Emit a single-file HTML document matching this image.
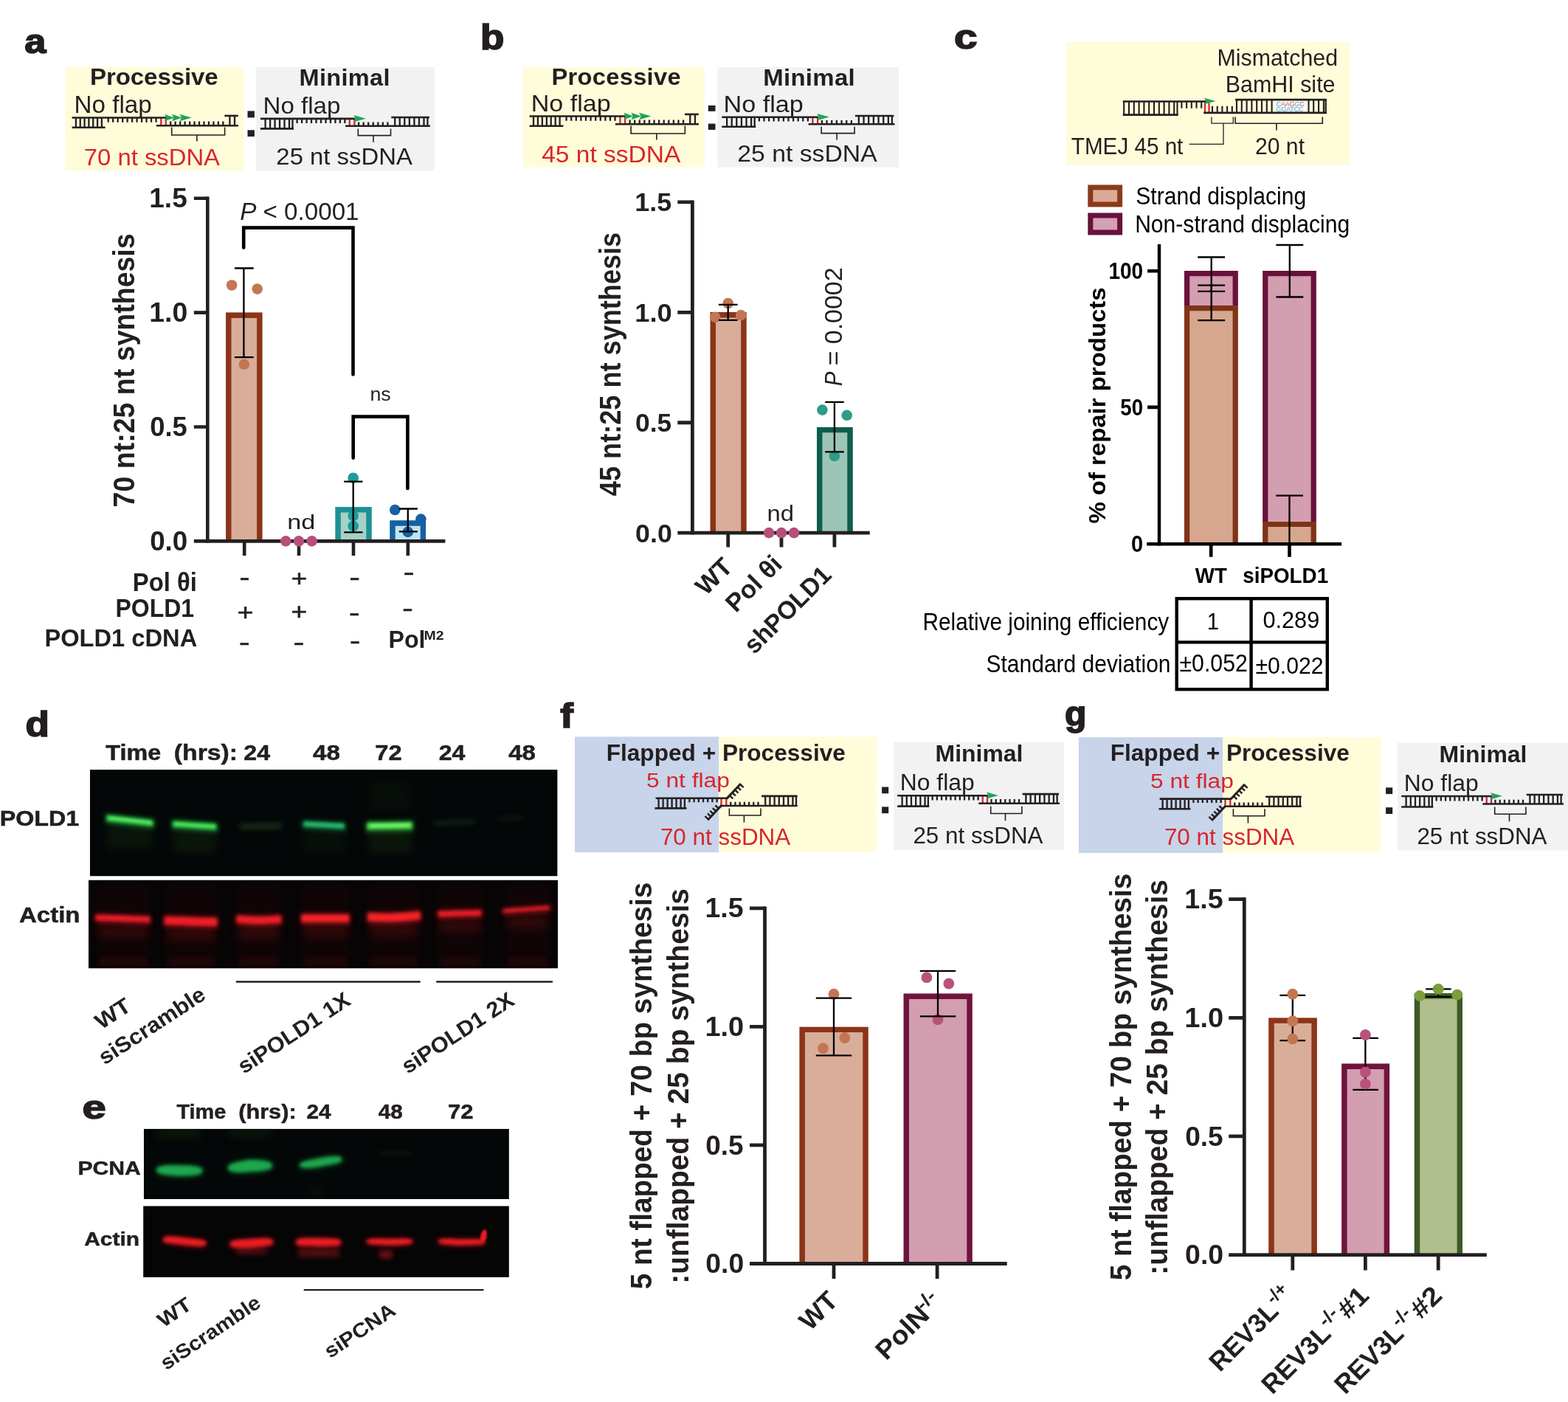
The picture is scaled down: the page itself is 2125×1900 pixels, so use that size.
<!DOCTYPE html>
<html lang="en"><head><meta charset="utf-8"><title>Figure</title>
<style>
html,body{margin:0;padding:0;background:#fff}
body{width:2125px;height:1900px;overflow:hidden}
svg{display:block}
svg text{font-family:"Liberation Sans",sans-serif;white-space:pre}
</style></head><body>
<svg width="2125" height="1900" viewBox="0 0 2125 1900">
<defs>
<filter id="b1" x="-20%" y="-100%" width="140%" height="300%"><feGaussianBlur stdDeviation="1.2"/></filter>
<filter id="b2" x="-20%" y="-100%" width="140%" height="300%"><feGaussianBlur stdDeviation="2.2"/></filter>
<filter id="b3" x="-30%" y="-100%" width="160%" height="300%"><feGaussianBlur stdDeviation="3.5"/></filter>
<filter id="b6" x="-30%" y="-50%" width="160%" height="200%"><feGaussianBlur stdDeviation="6"/></filter>
</defs>
<rect width="2125" height="1900" fill="#ffffff"/>
<rect x="88.30" y="90.80" width="242.30" height="140.80" fill="#fffcda"/>
<rect x="347.00" y="90.80" width="241.80" height="140.80" fill="#f2f2f2"/>
<text transform="translate(121.99 115.20) scale(1.0300 1)" font-size="32.12" font-weight="700" fill="#231f20" letter-spacing="-0.098">Processive</text>
<text transform="translate(405.53 115.90) scale(1.0300 1)" font-size="31.54" font-weight="700" fill="#231f20" letter-spacing="0.329">Minimal</text>
<text transform="translate(100.58 152.70) scale(1.0021 1)" font-size="33.14" font-weight="400" fill="#231f20">No flap</text>
<text transform="translate(356.48 154.40) scale(1.0546 1)" font-size="31.40" font-weight="400" fill="#231f20">No flap</text>
<path d="M102.90 159.50V172.80M108.73 159.50V172.80M114.56 159.50V172.80M120.39 159.50V172.80M126.22 159.50V172.80M132.05 159.50V172.80M137.88 159.50V172.80" fill="none" stroke="#231f20" stroke-width="2.30"/>
<path d="M146.70 159.50V165.80M153.18 159.50V165.80M159.66 159.50V165.80M166.14 159.50V165.80M172.62 159.50V165.80M179.10 159.50V165.80M185.58 159.50V165.80M192.06 159.50V165.80M198.54 159.50V165.80M205.02 159.50V165.80M211.50 159.50V165.80" fill="none" stroke="#231f20" stroke-width="2.30"/>
<path d="M231.20 170.30V164.60M237.67 170.30V164.60M244.14 170.30V164.60M250.61 170.30V164.60M257.08 170.30V164.60M263.55 170.30V164.60M270.02 170.30V164.60M276.49 170.30V164.60M282.96 170.30V164.60M289.43 170.30V164.60M295.90 170.30V164.60M302.37 170.30V164.60" fill="none" stroke="#231f20" stroke-width="2.30"/>
<path d="M311.40 156.90V170.30M318.00 156.90V170.30" fill="none" stroke="#231f20" stroke-width="2.30"/>
<path d="M218.30 159.50V170.30M224.80 159.50V170.30" fill="none" stroke="#d7262c" stroke-width="2.30"/>
<line x1="97.60" y1="159.50" x2="225.10" y2="159.50" stroke="#231f20" stroke-width="2.60" stroke-linecap="butt"/>
<line x1="97.60" y1="172.80" x2="142.60" y2="172.80" stroke="#231f20" stroke-width="2.60" stroke-linecap="butt"/>
<line x1="211.80" y1="170.30" x2="322.90" y2="170.30" stroke="#231f20" stroke-width="2.60" stroke-linecap="butt"/>
<line x1="304.30" y1="156.90" x2="322.70" y2="156.90" stroke="#231f20" stroke-width="2.60" stroke-linecap="butt"/>
<path d="M223.20 154.70 L236.10 159.50 L223.20 164.30 L225.26 159.50 Z" fill="#1fa355"/>
<path d="M233.00 154.70 L246.60 159.50 L233.00 164.30 L235.18 159.50 Z" fill="#1fa355"/>
<path d="M243.50 154.70 L259.50 159.50 L243.50 164.30 L246.06 159.50 Z" fill="#1fa355"/>
<path d="M232.70 172.50V183.00H304.60V172.50M266.80 183.00V191.60" fill="none" stroke="#231f20" stroke-width="1.60"/>
<path d="M359.60 160.90V174.40M366.08 160.90V174.40M372.56 160.90V174.40M379.04 160.90V174.40M385.52 160.90V174.40M392.00 160.90V174.40M396.50 160.90V174.40" fill="none" stroke="#231f20" stroke-width="2.30"/>
<path d="M402.60 160.90V166.90M409.08 160.90V166.90M415.56 160.90V166.90M422.04 160.90V166.90M428.52 160.90V166.90M435.00 160.90V166.90M441.48 160.90V166.90M447.96 160.90V166.90M454.44 160.90V166.90M460.92 160.90V166.90M467.40 160.90V166.90" fill="none" stroke="#231f20" stroke-width="2.30"/>
<path d="M486.10 170.70V165.40M492.65 170.70V165.40M499.20 170.70V165.40M505.75 170.70V165.40M512.30 170.70V165.40M518.85 170.70V165.40M525.40 170.70V165.40" fill="none" stroke="#231f20" stroke-width="2.30"/>
<path d="M535.20 159.00V170.70M541.75 159.00V170.70M548.30 159.00V170.70M554.85 159.00V170.70M561.40 159.00V170.70M567.95 159.00V170.70M574.50 159.00V170.70M579.40 159.00V170.70" fill="none" stroke="#231f20" stroke-width="2.30"/>
<path d="M473.80 160.90V170.70M480.40 160.90V170.70" fill="none" stroke="#d7262c" stroke-width="2.30"/>
<line x1="352.90" y1="160.90" x2="481.20" y2="160.90" stroke="#231f20" stroke-width="2.60" stroke-linecap="butt"/>
<line x1="352.90" y1="174.40" x2="398.00" y2="174.40" stroke="#231f20" stroke-width="2.60" stroke-linecap="butt"/>
<line x1="468.10" y1="170.70" x2="582.90" y2="170.70" stroke="#231f20" stroke-width="2.60" stroke-linecap="butt"/>
<line x1="530.30" y1="159.00" x2="581.90" y2="159.00" stroke="#231f20" stroke-width="2.60" stroke-linecap="butt"/>
<path d="M479.40 156.10 L495.90 160.70 L479.40 165.30 L482.04 160.70 Z" fill="#1fa355"/>
<path d="M485.30 174.40V183.60H529.50V174.40M506.00 183.60V192.80" fill="none" stroke="#231f20" stroke-width="1.60"/>
<text transform="translate(113.82 223.70) scale(1.0407 1)" font-size="31.54" font-weight="400" fill="#d7262c">70 nt ssDNA</text>
<text transform="translate(374.35 222.80) scale(1.0422 1)" font-size="31.54" font-weight="400" fill="#231f20">25 nt ssDNA</text>
<rect x="335.50" y="150.40" width="9.40" height="9.00" fill="#231f20"/>
<rect x="335.50" y="176.30" width="9.40" height="8.80" fill="#231f20"/>
<rect x="708.70" y="91.00" width="246.10" height="135.60" fill="#fffcda"/>
<rect x="972.40" y="91.00" width="245.80" height="135.60" fill="#f2f2f2"/>
<text transform="translate(747.42 114.90) scale(1.0300 1)" font-size="31.69" font-weight="700" fill="#231f20" letter-spacing="0.304">Processive</text>
<text transform="translate(1034.20 116.40) scale(1.0300 1)" font-size="31.98" font-weight="700" fill="#231f20" letter-spacing="0.311">Minimal</text>
<text transform="translate(719.70 150.80) scale(1.0910 1)" font-size="31.25" font-weight="400" fill="#231f20">No flap</text>
<text transform="translate(980.50 152.30) scale(1.0942 1)" font-size="31.25" font-weight="400" fill="#231f20">No flap</text>
<path d="M723.00 157.50V170.80M728.93 157.50V170.80M734.87 157.50V170.80M740.80 157.50V170.80M746.74 157.50V170.80M752.67 157.50V170.80M758.61 157.50V170.80" fill="none" stroke="#231f20" stroke-width="2.30"/>
<path d="M767.58 157.50V163.80M774.18 157.50V163.80M780.78 157.50V163.80M787.37 157.50V163.80M793.97 157.50V163.80M800.57 157.50V163.80M807.16 157.50V163.80M813.76 157.50V163.80M820.36 157.50V163.80M826.95 157.50V163.80M833.55 157.50V163.80" fill="none" stroke="#231f20" stroke-width="2.30"/>
<path d="M853.60 168.30V162.60M860.19 168.30V162.60M866.78 168.30V162.60M873.36 168.30V162.60M879.95 168.30V162.60M886.54 168.30V162.60M893.12 168.30V162.60M899.71 168.30V162.60M906.30 168.30V162.60M912.88 168.30V162.60M919.47 168.30V162.60M926.06 168.30V162.60" fill="none" stroke="#231f20" stroke-width="2.30"/>
<path d="M935.25 154.90V168.30M941.97 154.90V168.30" fill="none" stroke="#231f20" stroke-width="2.30"/>
<path d="M840.47 157.50V168.30M847.09 157.50V168.30" fill="none" stroke="#d7262c" stroke-width="2.30"/>
<line x1="717.60" y1="157.50" x2="847.39" y2="157.50" stroke="#231f20" stroke-width="2.60" stroke-linecap="butt"/>
<line x1="717.60" y1="170.80" x2="763.41" y2="170.80" stroke="#231f20" stroke-width="2.60" stroke-linecap="butt"/>
<line x1="833.86" y1="168.30" x2="946.96" y2="168.30" stroke="#231f20" stroke-width="2.60" stroke-linecap="butt"/>
<line x1="928.02" y1="154.90" x2="946.75" y2="154.90" stroke="#231f20" stroke-width="2.60" stroke-linecap="butt"/>
<path d="M845.46 152.70 L858.59 157.50 L845.46 162.30 L847.56 157.50 Z" fill="#1fa355"/>
<path d="M855.44 152.70 L869.28 157.50 L855.44 162.30 L857.65 157.50 Z" fill="#1fa355"/>
<path d="M866.13 152.70 L882.41 157.50 L866.13 162.30 L868.73 157.50 Z" fill="#1fa355"/>
<path d="M855.13 170.50V181.00H928.33V170.50M889.85 181.00V189.60" fill="none" stroke="#231f20" stroke-width="1.60"/>
<path d="M985.12 158.80V171.76M991.72 158.80V171.76M998.31 158.80V171.76M1004.91 158.80V171.76M1011.51 158.80V171.76M1018.10 158.80V171.76M1022.68 158.80V171.76" fill="none" stroke="#231f20" stroke-width="2.30"/>
<path d="M1028.89 158.80V164.56M1035.49 158.80V164.56M1042.09 158.80V164.56M1048.68 158.80V164.56M1055.28 158.80V164.56M1061.88 158.80V164.56M1068.47 158.80V164.56M1075.07 158.80V164.56M1081.67 158.80V164.56M1088.26 158.80V164.56M1094.86 158.80V164.56" fill="none" stroke="#231f20" stroke-width="2.30"/>
<path d="M1113.90 168.21V163.12M1120.57 168.21V163.12M1127.23 168.21V163.12M1133.90 168.21V163.12M1140.57 168.21V163.12M1147.24 168.21V163.12M1153.90 168.21V163.12" fill="none" stroke="#231f20" stroke-width="2.30"/>
<path d="M1163.88 156.98V168.21M1170.55 156.98V168.21M1177.22 156.98V168.21M1183.89 156.98V168.21M1190.55 156.98V168.21M1197.22 156.98V168.21M1203.89 156.98V168.21M1208.88 156.98V168.21" fill="none" stroke="#231f20" stroke-width="2.30"/>
<path d="M1101.38 158.80V168.21M1108.10 158.80V168.21" fill="none" stroke="#d7262c" stroke-width="2.30"/>
<line x1="978.30" y1="158.80" x2="1108.91" y2="158.80" stroke="#231f20" stroke-width="2.60" stroke-linecap="butt"/>
<line x1="978.30" y1="171.76" x2="1024.21" y2="171.76" stroke="#231f20" stroke-width="2.60" stroke-linecap="butt"/>
<line x1="1095.57" y1="168.21" x2="1212.44" y2="168.21" stroke="#231f20" stroke-width="2.60" stroke-linecap="butt"/>
<line x1="1158.89" y1="156.98" x2="1211.42" y2="156.98" stroke="#231f20" stroke-width="2.60" stroke-linecap="butt"/>
<path d="M1107.08 154.01 L1123.87 158.61 L1107.08 163.21 L1109.76 158.61 Z" fill="#1fa355"/>
<path d="M1113.08 171.76V180.59H1158.08V171.76M1134.16 180.59V189.42" fill="none" stroke="#231f20" stroke-width="1.60"/>
<text transform="translate(734.13 220.10) scale(1.0731 1)" font-size="31.25" font-weight="400" fill="#d7262c">45 nt ssDNA</text>
<text transform="translate(999.30 219.20) scale(1.0908 1)" font-size="30.96" font-weight="400" fill="#231f20">25 nt ssDNA</text>
<rect x="959.80" y="142.90" width="9.70" height="7.90" fill="#231f20"/>
<rect x="959.80" y="167.60" width="9.70" height="8.30" fill="#231f20"/>
<rect x="1444.80" y="56.50" width="384.60" height="167.10" fill="#fffcda"/>
<text transform="translate(1649.51 88.90) scale(0.9445 1)" font-size="32.12" font-weight="400" fill="#231f20">Mismatched</text>
<text transform="translate(1660.70 124.90) scale(0.9786 1)" font-size="31.11" font-weight="400" fill="#231f20">BamHI site</text>
<text transform="translate(1451.83 209.00) scale(0.9576 1)" font-size="30.96" font-weight="400" fill="#231f20">TMEJ 45 nt</text>
<text transform="translate(1700.98 209.00) scale(0.9735 1)" font-size="30.96" font-weight="400" fill="#231f20">20 nt</text>
<path d="M1523.20 137.50V155.70M1530.00 137.50V155.70M1536.80 137.50V155.70M1543.60 137.50V155.70M1550.40 137.50V155.70M1557.20 137.50V155.70M1564.00 137.50V155.70M1570.80 137.50V155.70M1577.60 137.50V155.70M1584.40 137.50V155.70M1591.20 137.50V155.70M1595.50 137.50V155.70" fill="none" stroke="#231f20" stroke-width="2.10"/>
<path d="M1601.40 137.50V146.70M1608.10 137.50V146.70M1614.80 137.50V146.70M1621.50 137.50V146.70M1628.20 137.50V146.70" fill="none" stroke="#231f20" stroke-width="2.10"/>
<path d="M1643.00 152.80V143.80M1649.70 152.80V143.80M1656.40 152.80V143.80M1663.10 152.80V143.80M1669.80 152.80V143.80" fill="none" stroke="#231f20" stroke-width="2.10"/>
<path d="M1676.00 135.10V152.80M1682.80 135.10V152.80M1689.60 135.10V152.80M1696.40 135.10V152.80M1703.20 135.10V152.80M1710.00 135.10V152.80M1716.80 135.10V152.80M1723.60 135.10V152.80" fill="none" stroke="#231f20" stroke-width="2.10"/>
<path d="M1773.50 135.10V152.80M1780.20 135.10V152.80M1787.10 135.10V152.80M1793.90 135.10V152.80" fill="none" stroke="#231f20" stroke-width="2.10"/>
<path d="M1796.70 135.10V152.80" fill="none" stroke="#231f20" stroke-width="2.30"/>
<rect x="1728.90" y="136.60" width="41.60" height="14.90" fill="#f4fbfb"/>
<path d="M1633.00 137.50V152.80M1638.50 137.50V152.80" fill="none" stroke="#d7262c" stroke-width="2.20"/>
<line x1="1521.70" y1="137.50" x2="1635.20" y2="137.50" stroke="#231f20" stroke-width="2.70" stroke-linecap="butt"/>
<line x1="1521.70" y1="155.70" x2="1596.70" y2="155.70" stroke="#231f20" stroke-width="2.70" stroke-linecap="butt"/>
<line x1="1631.20" y1="152.80" x2="1797.90" y2="152.80" stroke="#231f20" stroke-width="2.70" stroke-linecap="butt"/>
<line x1="1674.10" y1="135.10" x2="1797.90" y2="135.10" stroke="#231f20" stroke-width="2.70" stroke-linecap="butt"/>
<path d="M1632.00 132.70 L1647.70 137.00 L1632.00 141.30 L1634.51 137.00 Z" fill="#1fa355"/>
<text transform="translate(1729.6 143.9) scale(0.98 1)" font-size="9.2" fill="#d9534f" letter-spacing="-0.2"><tspan fill="#5aa0c8">C</tspan>AAG<tspan fill="#5aa0c8">G</tspan>C</text>
<text transform="translate(1729.6 150.9) scale(0.98 1)" font-size="9.2" fill="#5aa0c8" letter-spacing="-0.2">GGATCC</text>
<path d="M1641.9 158.5V167.2H1671.3V158.5M1658 167.2V195.4H1611.6" fill="none" stroke="#231f20" stroke-width="1.30"/>
<path d="M1674.10 158.50V167.20H1792.30V158.50M1729.90 167.20V176.60" fill="none" stroke="#231f20" stroke-width="1.60"/>
<rect x="1477.80" y="254.00" width="39.80" height="23.00" fill="#dbab97" stroke="#8a3a1b" stroke-width="7.00"/>
<rect x="1477.80" y="292.00" width="39.80" height="23.00" fill="#d4a0b4" stroke="#66123c" stroke-width="7.00"/>
<text transform="translate(1539.23 276.80) scale(0.9253 1)" font-size="32.56" font-weight="400" fill="#000">Strand displacing</text>
<text transform="translate(1538.13 315.20) scale(0.9244 1)" font-size="32.56" font-weight="400" fill="#000">Non-strand displacing</text>
<rect x="778.90" y="998.40" width="195.40" height="156.70" fill="#c7d4ea"/>
<rect x="974.30" y="998.40" width="213.70" height="156.20" fill="#fffcda"/>
<rect x="1211.20" y="1005.90" width="230.80" height="145.80" fill="#f2f2f2"/>
<text transform="translate(821.68 1030.60) scale(1.0073 1)" font-size="31.40" font-weight="700" fill="#231f20">Flapped + Processive</text>
<text transform="translate(876.03 1067.10) scale(1.1664 1)" font-size="27.18" font-weight="400" fill="#d7262c">5 nt flap</text>
<text transform="translate(894.89 1144.50) scale(1.0060 1)" font-size="31.25" font-weight="400" fill="#d7262c">70 nt ssDNA</text>
<path d="M892.60 1081.80V1095.40M898.60 1081.80V1095.40M904.60 1081.80V1095.40M910.60 1081.80V1095.40M916.60 1081.80V1095.40M922.60 1081.80V1095.40M927.90 1081.80V1095.40" fill="none" stroke="#231f20" stroke-width="2.30"/>
<path d="M934.40 1081.80V1087.30M940.60 1081.80V1087.30M946.80 1081.80V1087.30M953.00 1081.80V1087.30M959.20 1081.80V1087.30M965.40 1081.80V1087.30M971.60 1081.80V1087.30" fill="none" stroke="#231f20" stroke-width="2.30"/>
<path d="M990.30 1092.00V1086.80M996.50 1092.00V1086.80M1002.70 1092.00V1086.80M1008.90 1092.00V1086.80M1015.10 1092.00V1086.80M1021.30 1092.00V1086.80M1027.50 1092.00V1086.80" fill="none" stroke="#231f20" stroke-width="2.30"/>
<path d="M1037.20 1078.90V1092.00M1043.40 1078.90V1092.00M1049.60 1078.90V1092.00M1055.80 1078.90V1092.00M1062.00 1078.90V1092.00M1068.20 1078.90V1092.00M1074.40 1078.90V1092.00M1079.00 1078.90V1092.00" fill="none" stroke="#231f20" stroke-width="2.30"/>
<path d="M977.50 1081.80V1092.00M984.30 1081.80V1092.00" fill="none" stroke="#d7262c" stroke-width="2.30"/>
<line x1="888.60" y1="1081.80" x2="985.60" y2="1081.80" stroke="#231f20" stroke-width="2.60" stroke-linecap="butt"/>
<line x1="887.50" y1="1095.40" x2="930.40" y2="1095.40" stroke="#231f20" stroke-width="2.60" stroke-linecap="butt"/>
<line x1="976.60" y1="1092.00" x2="1080.70" y2="1092.00" stroke="#231f20" stroke-width="2.60" stroke-linecap="butt"/>
<line x1="1032.10" y1="1078.90" x2="1080.70" y2="1078.90" stroke="#231f20" stroke-width="2.60" stroke-linecap="butt"/>
<line x1="984.80" y1="1082.40" x2="1003.90" y2="1062.00" stroke="#231f20" stroke-width="3.00" stroke-linecap="butt"/>
<path d="M988.79 1078.00L993.30 1082.26M992.38 1074.20L996.89 1078.45M995.97 1070.40L1000.48 1074.65M999.56 1066.59L1004.07 1070.85M1003.15 1062.79L1007.66 1067.05" fill="none" stroke="#231f20" stroke-width="2.40"/>
<line x1="977.80" y1="1091.40" x2="959.20" y2="1111.20" stroke="#231f20" stroke-width="3.00" stroke-linecap="butt"/>
<path d="M973.82 1095.69L969.31 1091.43M970.35 1099.37L965.84 1095.12M966.87 1103.06L962.36 1098.81M963.40 1106.75L958.89 1102.49M959.92 1110.43L955.41 1106.18" fill="none" stroke="#231f20" stroke-width="2.40"/>
<path d="M988.40 1095.40V1105.00H1031.00V1095.40M1008.40 1105.00V1114.60" fill="none" stroke="#231f20" stroke-width="1.60"/>
<rect x="1195.10" y="1066.50" width="9.10" height="8.80" fill="#231f20"/>
<rect x="1195.10" y="1093.40" width="9.10" height="8.80" fill="#231f20"/>
<text transform="translate(1267.56 1032.00) scale(1.0042 1)" font-size="31.83" font-weight="700" fill="#231f20">Minimal</text>
<text transform="translate(1219.79 1071.00) scale(1.0195 1)" font-size="31.25" font-weight="400" fill="#231f20">No flap</text>
<path d="M1222.60 1078.20V1092.64M1228.79 1078.20V1092.64M1234.99 1078.20V1092.64M1241.18 1078.20V1092.64M1247.37 1078.20V1092.64M1253.56 1078.20V1092.64M1257.86 1078.20V1092.64" fill="none" stroke="#231f20" stroke-width="2.30"/>
<path d="M1263.69 1078.20V1084.62M1269.88 1078.20V1084.62M1276.07 1078.20V1084.62M1282.26 1078.20V1084.62M1288.45 1078.20V1084.62M1294.65 1078.20V1084.62M1300.84 1078.20V1084.62M1307.03 1078.20V1084.62M1313.22 1078.20V1084.62M1319.41 1078.20V1084.62M1325.60 1078.20V1084.62" fill="none" stroke="#231f20" stroke-width="2.30"/>
<path d="M1343.47 1088.69V1083.02M1349.73 1088.69V1083.02M1355.99 1088.69V1083.02M1362.25 1088.69V1083.02M1368.51 1088.69V1083.02M1374.77 1088.69V1083.02M1381.02 1088.69V1083.02" fill="none" stroke="#231f20" stroke-width="2.30"/>
<path d="M1390.39 1076.17V1088.69M1396.65 1076.17V1088.69M1402.90 1076.17V1088.69M1409.16 1076.17V1088.69M1415.42 1076.17V1088.69M1421.68 1076.17V1088.69M1427.94 1076.17V1088.69M1432.62 1076.17V1088.69" fill="none" stroke="#231f20" stroke-width="2.30"/>
<path d="M1331.72 1078.20V1088.69M1338.03 1078.20V1088.69" fill="none" stroke="#d7262c" stroke-width="2.30"/>
<line x1="1216.20" y1="1078.20" x2="1338.79" y2="1078.20" stroke="#231f20" stroke-width="2.60" stroke-linecap="butt"/>
<line x1="1216.20" y1="1092.64" x2="1259.29" y2="1092.64" stroke="#231f20" stroke-width="2.60" stroke-linecap="butt"/>
<line x1="1326.27" y1="1088.69" x2="1435.97" y2="1088.69" stroke="#231f20" stroke-width="2.60" stroke-linecap="butt"/>
<line x1="1385.71" y1="1076.17" x2="1435.01" y2="1076.17" stroke="#231f20" stroke-width="2.60" stroke-linecap="butt"/>
<path d="M1337.07 1073.39 L1352.84 1077.99 L1337.07 1082.59 L1339.59 1077.99 Z" fill="#1fa355"/>
<path d="M1342.71 1092.64V1102.49H1384.94V1092.64M1362.49 1102.49V1112.33" fill="none" stroke="#231f20" stroke-width="1.60"/>
<text transform="translate(1237.42 1142.80) scale(0.9813 1)" font-size="31.98" font-weight="400" fill="#231f20">25 nt ssDNA</text>
<rect x="1461.90" y="999.20" width="195.40" height="156.70" fill="#c7d4ea"/>
<rect x="1657.30" y="999.20" width="213.70" height="156.20" fill="#fffcda"/>
<rect x="1894.20" y="1006.70" width="230.80" height="145.80" fill="#f2f2f2"/>
<text transform="translate(1504.68 1031.40) scale(1.0073 1)" font-size="31.40" font-weight="700" fill="#231f20">Flapped + Processive</text>
<text transform="translate(1559.03 1067.90) scale(1.1664 1)" font-size="27.18" font-weight="400" fill="#d7262c">5 nt flap</text>
<text transform="translate(1577.89 1145.30) scale(1.0060 1)" font-size="31.25" font-weight="400" fill="#d7262c">70 nt ssDNA</text>
<path d="M1575.60 1082.60V1096.20M1581.60 1082.60V1096.20M1587.60 1082.60V1096.20M1593.60 1082.60V1096.20M1599.60 1082.60V1096.20M1605.60 1082.60V1096.20M1610.90 1082.60V1096.20" fill="none" stroke="#231f20" stroke-width="2.30"/>
<path d="M1617.40 1082.60V1088.10M1623.60 1082.60V1088.10M1629.80 1082.60V1088.10M1636.00 1082.60V1088.10M1642.20 1082.60V1088.10M1648.40 1082.60V1088.10M1654.60 1082.60V1088.10" fill="none" stroke="#231f20" stroke-width="2.30"/>
<path d="M1673.30 1092.80V1087.60M1679.50 1092.80V1087.60M1685.70 1092.80V1087.60M1691.90 1092.80V1087.60M1698.10 1092.80V1087.60M1704.30 1092.80V1087.60M1710.50 1092.80V1087.60" fill="none" stroke="#231f20" stroke-width="2.30"/>
<path d="M1720.20 1079.70V1092.80M1726.40 1079.70V1092.80M1732.60 1079.70V1092.80M1738.80 1079.70V1092.80M1745.00 1079.70V1092.80M1751.20 1079.70V1092.80M1757.40 1079.70V1092.80M1762.00 1079.70V1092.80" fill="none" stroke="#231f20" stroke-width="2.30"/>
<path d="M1660.50 1082.60V1092.80M1667.30 1082.60V1092.80" fill="none" stroke="#d7262c" stroke-width="2.30"/>
<line x1="1571.60" y1="1082.60" x2="1668.60" y2="1082.60" stroke="#231f20" stroke-width="2.60" stroke-linecap="butt"/>
<line x1="1570.50" y1="1096.20" x2="1613.40" y2="1096.20" stroke="#231f20" stroke-width="2.60" stroke-linecap="butt"/>
<line x1="1659.60" y1="1092.80" x2="1763.70" y2="1092.80" stroke="#231f20" stroke-width="2.60" stroke-linecap="butt"/>
<line x1="1715.10" y1="1079.70" x2="1763.70" y2="1079.70" stroke="#231f20" stroke-width="2.60" stroke-linecap="butt"/>
<line x1="1667.80" y1="1083.20" x2="1686.90" y2="1062.80" stroke="#231f20" stroke-width="3.00" stroke-linecap="butt"/>
<path d="M1671.79 1078.80L1676.30 1083.06M1675.38 1075.00L1679.89 1079.25M1678.97 1071.20L1683.48 1075.45M1682.56 1067.39L1687.07 1071.65M1686.15 1063.59L1690.66 1067.85" fill="none" stroke="#231f20" stroke-width="2.40"/>
<line x1="1660.80" y1="1092.20" x2="1642.20" y2="1112.00" stroke="#231f20" stroke-width="3.00" stroke-linecap="butt"/>
<path d="M1656.82 1096.49L1652.31 1092.23M1653.35 1100.17L1648.84 1095.92M1649.87 1103.86L1645.36 1099.61M1646.40 1107.55L1641.89 1103.29M1642.92 1111.23L1638.41 1106.98" fill="none" stroke="#231f20" stroke-width="2.40"/>
<path d="M1671.40 1096.20V1105.80H1714.00V1096.20M1691.40 1105.80V1115.40" fill="none" stroke="#231f20" stroke-width="1.60"/>
<rect x="1878.10" y="1067.30" width="9.10" height="8.80" fill="#231f20"/>
<rect x="1878.10" y="1094.20" width="9.10" height="8.80" fill="#231f20"/>
<text transform="translate(1950.56 1032.80) scale(1.0042 1)" font-size="31.83" font-weight="700" fill="#231f20">Minimal</text>
<text transform="translate(1902.79 1071.80) scale(1.0195 1)" font-size="31.25" font-weight="400" fill="#231f20">No flap</text>
<path d="M1905.60 1079.00V1093.44M1911.79 1079.00V1093.44M1917.99 1079.00V1093.44M1924.18 1079.00V1093.44M1930.37 1079.00V1093.44M1936.56 1079.00V1093.44M1940.86 1079.00V1093.44" fill="none" stroke="#231f20" stroke-width="2.30"/>
<path d="M1946.69 1079.00V1085.42M1952.88 1079.00V1085.42M1959.07 1079.00V1085.42M1965.26 1079.00V1085.42M1971.45 1079.00V1085.42M1977.65 1079.00V1085.42M1983.84 1079.00V1085.42M1990.03 1079.00V1085.42M1996.22 1079.00V1085.42M2002.41 1079.00V1085.42M2008.60 1079.00V1085.42" fill="none" stroke="#231f20" stroke-width="2.30"/>
<path d="M2026.47 1089.49V1083.82M2032.73 1089.49V1083.82M2038.99 1089.49V1083.82M2045.25 1089.49V1083.82M2051.51 1089.49V1083.82M2057.77 1089.49V1083.82M2064.02 1089.49V1083.82" fill="none" stroke="#231f20" stroke-width="2.30"/>
<path d="M2073.39 1076.97V1089.49M2079.65 1076.97V1089.49M2085.90 1076.97V1089.49M2092.16 1076.97V1089.49M2098.42 1076.97V1089.49M2104.68 1076.97V1089.49M2110.94 1076.97V1089.49M2115.62 1076.97V1089.49" fill="none" stroke="#231f20" stroke-width="2.30"/>
<path d="M2014.72 1079.00V1089.49M2021.03 1079.00V1089.49" fill="none" stroke="#d7262c" stroke-width="2.30"/>
<line x1="1899.20" y1="1079.00" x2="2021.79" y2="1079.00" stroke="#231f20" stroke-width="2.60" stroke-linecap="butt"/>
<line x1="1899.20" y1="1093.44" x2="1942.29" y2="1093.44" stroke="#231f20" stroke-width="2.60" stroke-linecap="butt"/>
<line x1="2009.27" y1="1089.49" x2="2118.97" y2="1089.49" stroke="#231f20" stroke-width="2.60" stroke-linecap="butt"/>
<line x1="2068.71" y1="1076.97" x2="2118.01" y2="1076.97" stroke="#231f20" stroke-width="2.60" stroke-linecap="butt"/>
<path d="M2020.07 1074.19 L2035.84 1078.79 L2020.07 1083.39 L2022.59 1078.79 Z" fill="#1fa355"/>
<path d="M2025.71 1093.44V1103.29H2067.94V1093.44M2045.49 1103.29V1113.13" fill="none" stroke="#231f20" stroke-width="1.60"/>
<text transform="translate(1920.42 1143.60) scale(0.9813 1)" font-size="31.98" font-weight="400" fill="#231f20">25 nt ssDNA</text>
<rect x="306.10" y="423.60" width="49.40" height="309.80" fill="#d9ad99"/>
<path d="M309.80 733.40V427.30H351.80V733.40" fill="none" stroke="#8b3419" stroke-width="7.40"/>
<rect x="454.40" y="687.00" width="49.30" height="46.40" fill="#a4d2c6"/>
<path d="M458.10 733.40V690.70H500.00V733.40" fill="none" stroke="#1d9095" stroke-width="7.40"/>
<rect x="528.30" y="705.30" width="48.80" height="28.10" fill="#bfe4f3"/>
<path d="M532.00 733.40V709.00H573.40V733.40" fill="none" stroke="#15609f" stroke-width="7.40"/>
<path d="M281.30 266.50V735.70" fill="none" stroke="#231f20" stroke-width="4.60"/>
<path d="M262.80 733.40H603.40" fill="none" stroke="#231f20" stroke-width="4.60"/>
<path d="M262.80 268.80H281.30M262.80 423.67H281.30M262.80 578.53H281.30M331.20 733.40V753.00M405.00 733.40V753.00M479.00 733.40V753.00M552.80 733.40V753.00" fill="none" stroke="#231f20" stroke-width="4.60"/>
<circle cx="314.10" cy="386.50" r="7.30" fill="#c47652"/>
<circle cx="348.70" cy="391.60" r="7.30" fill="#c47652"/>
<circle cx="330.90" cy="493.80" r="7.30" fill="#c47652"/>
<circle cx="478.70" cy="647.70" r="7.30" fill="#1f9a9a"/>
<circle cx="478.70" cy="699.00" r="7.30" fill="#1f9a9a"/>
<circle cx="478.70" cy="712.80" r="7.30" fill="#1f9a9a"/>
<circle cx="535.30" cy="691.00" r="7.30" fill="#1660a6"/>
<circle cx="570.40" cy="703.60" r="7.30" fill="#1660a6"/>
<circle cx="552.80" cy="720.90" r="7.30" fill="#1660a6"/>
<circle cx="387.30" cy="733.40" r="7.30" fill="#b64f7a"/>
<circle cx="405.00" cy="733.40" r="7.30" fill="#b64f7a"/>
<circle cx="422.60" cy="733.40" r="7.30" fill="#b64f7a"/>
<path d="M330.40 363.50V484.20M317.90 363.50H343.70M317.90 484.20H343.70" fill="none" stroke="#000" stroke-width="2.30"/>
<path d="M478.70 652.70V721.40M466.20 652.70H491.50M466.20 721.40H491.50" fill="none" stroke="#000" stroke-width="2.30"/>
<path d="M552.80 689.50V720.40M540.80 689.50H565.90M540.80 720.40H565.90" fill="none" stroke="#000" stroke-width="2.30"/>
<text transform="translate(202.27 281.15) scale(1.0238 1)" font-size="36.16" font-weight="700" fill="#231f20">1.5</text>
<text transform="translate(202.24 436.01) scale(1.0343 1)" font-size="36.16" font-weight="700" fill="#231f20">1.0</text>
<text transform="translate(203.16 590.88) scale(1.0057 1)" font-size="36.16" font-weight="700" fill="#231f20">0.5</text>
<text transform="translate(203.15 745.75) scale(1.0158 1)" font-size="36.16" font-weight="700" fill="#231f20">0.0</text>
<path d="M330.2 335.6V308.6H478.5V507.4" fill="none" stroke="#000" stroke-width="4.60" stroke-linecap="round" stroke-linejoin="miter"/>
<path d="M478.7 620.6V564.6H552.4V662" fill="none" stroke="#000" stroke-width="4.60" stroke-linecap="round" stroke-linejoin="miter"/>
<text transform="translate(325.27 297.80) scale(0.9973 1)" font-size="33.43" font-weight="400" font-style="italic" fill="#231f20">P</text>
<text transform="translate(356.46 297.80) scale(0.9931 1)" font-size="33.43" font-weight="400" fill="#231f20">&lt; 0.0001</text>
<text transform="translate(501.42 543.10) scale(1.0246 1)" font-size="26.20" font-weight="400" fill="#231f20">ns</text>
<text transform="translate(389.33 717.40) scale(1.2012 1)" font-size="28.50" font-weight="400" fill="#231f20">nd</text>
<text transform="translate(182.10 685.80) rotate(-90.00) translate(-1.61 0.00) scale(0.9154 1)" font-size="40.99" font-weight="700" fill="#231f20">70 nt:25 nt synthesis</text>
<text transform="translate(179.70 800.80) scale(0.9589 1)" font-size="34.30" font-weight="700" fill="#231f20">Pol θi</text>
<text transform="translate(156.46 836.00) scale(0.9333 1)" font-size="34.30" font-weight="700" fill="#231f20">POLD1</text>
<text transform="translate(60.41 876.00) scale(0.9605 1)" font-size="34.01" font-weight="700" fill="#231f20">POLD1 cDNA</text>
<text transform="translate(324.54 793.00) scale(1.3056 1)" font-size="32.00" font-weight="400" fill="#231f20" stroke="#231f20" stroke-width="0.7">-</text>
<text transform="translate(394.70 795.00) scale(1.1514 1)" font-size="32.00" font-weight="400" fill="#231f20" stroke="#231f20" stroke-width="0.7">+</text>
<text transform="translate(473.49 793.00) scale(1.3440 1)" font-size="32.00" font-weight="400" fill="#231f20" stroke="#231f20" stroke-width="0.7">-</text>
<text transform="translate(546.75 785.60) scale(1.3696 1)" font-size="32.00" font-weight="400" fill="#231f20" stroke="#231f20" stroke-width="0.7">-</text>
<text transform="translate(321.69 841.30) scale(1.1578 1)" font-size="32.00" font-weight="400" fill="#231f20" stroke="#231f20" stroke-width="0.7">+</text>
<text transform="translate(394.49 840.20) scale(1.1578 1)" font-size="32.00" font-weight="400" fill="#231f20" stroke="#231f20" stroke-width="0.7">+</text>
<text transform="translate(473.07 840.50) scale(1.3568 1)" font-size="32.00" font-weight="400" fill="#231f20" stroke="#231f20" stroke-width="0.7">-</text>
<text transform="translate(545.27 835.20) scale(1.3568 1)" font-size="32.00" font-weight="400" fill="#231f20" stroke="#231f20" stroke-width="0.7">-</text>
<text transform="translate(324.07 880.60) scale(1.3568 1)" font-size="32.00" font-weight="400" fill="#231f20" stroke="#231f20" stroke-width="0.7">-</text>
<text transform="translate(397.87 880.60) scale(1.3568 1)" font-size="32.00" font-weight="400" fill="#231f20" stroke="#231f20" stroke-width="0.7">-</text>
<text transform="translate(473.91 879.40) scale(1.3312 1)" font-size="32.00" font-weight="400" fill="#231f20" stroke="#231f20" stroke-width="0.7">-</text>
<text transform="translate(526.45 878.40) scale(0.9455 1)" font-size="34.01" font-weight="700" fill="#231f20">Pol</text>
<text transform="translate(574.50 866.80) scale(1.1564 1)" font-size="16.86" font-weight="700" fill="#231f20">M2</text>
<rect x="962.60" y="423.00" width="49.00" height="299.20" fill="#d9ad99"/>
<path d="M966.30 722.20V426.70H1007.90V722.20" fill="none" stroke="#8b3419" stroke-width="7.40"/>
<rect x="1107.00" y="578.90" width="48.70" height="143.30" fill="#9cc4b7"/>
<path d="M1110.70 722.20V582.60H1152.00V722.20" fill="none" stroke="#0f5d4c" stroke-width="7.40"/>
<path d="M938.40 271.60V724.60" fill="none" stroke="#231f20" stroke-width="4.80"/>
<path d="M918.30 722.20H1178.80" fill="none" stroke="#231f20" stroke-width="4.80"/>
<path d="M918.30 273.90H938.40M918.30 423.33H938.40M918.30 572.77H938.40M986.70 722.20V741.50M1059.00 722.20V741.50M1130.90 722.20V741.50" fill="none" stroke="#231f20" stroke-width="4.80"/>
<circle cx="986.70" cy="411.00" r="7.30" fill="#c47652"/>
<circle cx="969.30" cy="429.80" r="7.30" fill="#c47652"/>
<circle cx="1004.10" cy="427.10" r="7.30" fill="#c47652"/>
<circle cx="1114.40" cy="555.60" r="7.30" fill="#2e9c86"/>
<circle cx="1147.70" cy="562.80" r="7.30" fill="#2e9c86"/>
<circle cx="1130.90" cy="618.00" r="7.30" fill="#2e9c86"/>
<circle cx="1042.10" cy="722.10" r="7.30" fill="#b64f7a"/>
<circle cx="1059.00" cy="722.10" r="7.30" fill="#b64f7a"/>
<circle cx="1076.00" cy="722.10" r="7.30" fill="#b64f7a"/>
<path d="M986.70 412.80V433.90M973.90 412.80H999.60M973.90 433.90H999.60" fill="none" stroke="#000" stroke-width="2.30"/>
<path d="M1130.90 544.80V612.30M1118.20 544.80H1143.80M1118.20 612.30H1143.80" fill="none" stroke="#000" stroke-width="2.30"/>
<text transform="translate(860.23 286.25) scale(1.0120 1)" font-size="35.59" font-weight="700" fill="#231f20">1.5</text>
<text transform="translate(860.21 435.69) scale(1.0223 1)" font-size="35.59" font-weight="700" fill="#231f20">1.0</text>
<text transform="translate(861.10 585.12) scale(0.9940 1)" font-size="35.59" font-weight="700" fill="#231f20">0.5</text>
<text transform="translate(861.09 734.55) scale(1.0040 1)" font-size="35.59" font-weight="700" fill="#231f20">0.0</text>
<text transform="translate(1039.62 705.80) scale(1.1313 1)" font-size="29.00" font-weight="400" fill="#231f20">nd</text>
<text transform="translate(841.00 671.60) rotate(-90.00) translate(-0.55 0.00) scale(0.8913 1)" font-size="40.55" font-weight="700" fill="#231f20">45 nt:25 nt synthesis</text>
<g transform="translate(1141.4 522.6) rotate(-90)">
<text transform="translate(-0.60 0.00) scale(0.8635 1)" font-size="34.01" font-weight="400" font-style="italic" fill="#231f20">P</text>
<text transform="translate(27.14 0.00) scale(0.9987 1)" font-size="34.01" font-weight="400" fill="#231f20">= 0.0002</text>
</g>
<text transform="translate(994.60 770.40) rotate(-45.00) translate(-54.03 0.00) scale(1.0202 1)" font-size="34.30" font-weight="700" fill="#231f20">WT</text>
<text transform="translate(1060.30 768.30) rotate(-45.00) translate(-89.31 0.00) scale(1.0088 1)" font-size="34.30" font-weight="700" fill="#231f20">Pol θi</text>
<text transform="translate(1128.10 781.90) rotate(-45.00) translate(-149.68 0.00) scale(0.9755 1)" font-size="34.30" font-weight="700" fill="#231f20">shPOLD1</text>
<rect x="1605.00" y="414.00" width="72.80" height="323.20" fill="#d6a68f"/>
<path d="M1608.60 737.20V417.60H1674.20V737.20" fill="none" stroke="#803318" stroke-width="7.20"/>
<rect x="1605.00" y="367.00" width="72.80" height="47.00" fill="#d39eaf"/>
<path d="M1608.6 414V370.6H1674.2V414" fill="none" stroke="#68123b" stroke-width="7.2"/>
<rect x="1711.20" y="706.90" width="72.60" height="30.30" fill="#d6a68f"/>
<path d="M1714.80 737.20V710.50H1780.20V737.20" fill="none" stroke="#803318" stroke-width="7.20"/>
<rect x="1711.20" y="367.00" width="72.60" height="339.90" fill="#d39eaf"/>
<path d="M1714.8 706.9V370.6H1780.2V706.9" fill="none" stroke="#68123b" stroke-width="7.2"/>
<path d="M1571 330.9V739.5" fill="none" stroke="#000" stroke-width="4.40"/>
<path d="M1554.2 737.2H1818.2" fill="none" stroke="#000" stroke-width="4.60"/>
<path d="M1555.1 367.2H1571M1555.1 551.9H1571M1641.2 737.2V754.7M1747.5 737.2V754.7" fill="none" stroke="#000" stroke-width="4.60"/>
<path d="M1641.70 348.50V394.90M1623.20 348.50H1660.10M1623.20 394.90H1660.10" fill="none" stroke="#000" stroke-width="2.30"/>
<path d="M1641.70 386.60V434.10M1623.20 386.60H1660.10M1623.20 434.10H1660.10" fill="none" stroke="#000" stroke-width="2.30"/>
<path d="M1747.80 332.00V402.50M1729.40 332.00H1766.30M1729.40 402.50H1766.30" fill="none" stroke="#000" stroke-width="2.30"/>
<path d="M1747.5 671.7V740M1729.3 671.7H1766" fill="none" stroke="#000" stroke-width="2.30"/>
<text transform="translate(1502.44 378.29) scale(0.8732 1)" font-size="32.06" font-weight="700" fill="#000">100</text>
<text transform="translate(1518.35 562.99) scale(0.8633 1)" font-size="32.06" font-weight="700" fill="#000">50</text>
<text transform="translate(1533.05 748.29) scale(0.9050 1)" font-size="32.06" font-weight="700" fill="#000">0</text>
<text transform="translate(1497.60 708.80) rotate(-90.00) translate(-0.82 0.00) scale(1.0354 1)" font-size="31.83" font-weight="700" fill="#000">% of repair products</text>
<text transform="translate(1619.87 790.20) scale(0.9333 1)" font-size="29.65" font-weight="700" fill="#000">WT</text>
<text transform="translate(1684.32 790.20) scale(0.9374 1)" font-size="29.65" font-weight="700" fill="#000">siPOLD1</text>
<rect x="1594.7" y="811.2" width="204.1" height="123" fill="none" stroke="#000" stroke-width="4.4"/>
<path d="M1695.6 811V934M1594 870.4H1799" fill="none" stroke="#000" stroke-width="4.40"/>
<text transform="translate(1250.56 854.00) scale(0.9183 1)" font-size="32.41" font-weight="400" fill="#000">Relative joining efficiency</text>
<text transform="translate(1336.54 911.20) scale(0.9130 1)" font-size="32.85" font-weight="400" fill="#000">Standard deviation</text>
<text transform="translate(1635.87 853.00) scale(0.9395 1)" font-size="31.11" font-weight="400" fill="#000">1</text>
<text transform="translate(1711.40 850.50) scale(0.9604 1)" font-size="31.98" font-weight="400" fill="#000">0.289</text>
<text transform="translate(1598.44 909.60) scale(0.9217 1)" font-size="32.85" font-weight="400" fill="#000">±0.052</text>
<text transform="translate(1701.54 912.80) scale(0.9437 1)" font-size="31.98" font-weight="400" fill="#000">±0.022</text>
<rect x="1083.50" y="1391.70" width="93.20" height="320.80" fill="#d9ad99"/>
<path d="M1087.20 1712.50V1395.40H1173.00V1712.50" fill="none" stroke="#8b3419" stroke-width="7.40"/>
<rect x="1224.60" y="1346.60" width="93.10" height="365.90" fill="#d39eaf"/>
<path d="M1228.30 1712.50V1350.30H1314.00V1712.50" fill="none" stroke="#70133f" stroke-width="7.40"/>
<path d="M1036.50 1228.40V1714.90" fill="none" stroke="#231f20" stroke-width="4.80"/>
<path d="M1016.00 1712.50H1364.70" fill="none" stroke="#231f20" stroke-width="4.80"/>
<path d="M1016.00 1230.80H1036.50M1016.00 1391.37H1036.50M1016.00 1551.93H1036.50M1130.00 1712.50V1733.00M1270.10 1712.50V1733.00" fill="none" stroke="#231f20" stroke-width="4.80"/>
<circle cx="1130.00" cy="1347.20" r="7.40" fill="#c47652"/>
<circle cx="1144.80" cy="1406.50" r="7.40" fill="#c47652"/>
<circle cx="1115.40" cy="1420.70" r="7.40" fill="#c47652"/>
<circle cx="1255.90" cy="1324.70" r="7.40" fill="#b9527b"/>
<circle cx="1285.80" cy="1333.00" r="7.40" fill="#b9527b"/>
<circle cx="1271.00" cy="1381.70" r="7.40" fill="#b9527b"/>
<path d="M1130.00 1352.60V1430.40M1105.80 1352.60H1154.20M1105.80 1430.40H1154.20" fill="none" stroke="#000" stroke-width="2.30"/>
<path d="M1271.00 1315.90V1377.40M1246.80 1315.90H1295.20M1246.80 1377.40H1295.20" fill="none" stroke="#000" stroke-width="2.30"/>
<text transform="translate(955.43 1243.44) scale(1.0073 1)" font-size="37.29" font-weight="700" fill="#231f20">1.5</text>
<text transform="translate(955.41 1404.00) scale(1.0176 1)" font-size="37.29" font-weight="700" fill="#231f20">1.0</text>
<text transform="translate(956.34 1564.57) scale(0.9894 1)" font-size="37.29" font-weight="700" fill="#231f20">0.5</text>
<text transform="translate(956.33 1725.14) scale(0.9994 1)" font-size="37.29" font-weight="700" fill="#231f20">0.0</text>
<text transform="translate(883.20 1746.00) rotate(-90.00) translate(-1.19 0.00) scale(0.9378 1)" font-size="41.28" font-weight="700" fill="#231f20">5 nt flapped + 70 bp synthesis</text>
<text transform="translate(932.60 1736.00) rotate(-90.00) translate(-3.75 0.00) scale(0.9439 1)" font-size="41.28" font-weight="700" fill="#231f20">:unflapped + 25 bp synthesis</text>
<text transform="translate(1137.40 1765.00) rotate(-45.00) translate(-56.04 0.00) scale(1.0150 1)" font-size="35.76" font-weight="700" fill="#231f20">WT</text>
<g transform="translate(1279.9 1765.9) rotate(-45)">
<text transform="translate(-111.52 0.00) scale(1.0516 1)" font-size="35.76" font-weight="700" fill="#231f20">PolN</text>
<text transform="translate(-28.63 -12.50) scale(1.1700 1)" font-size="24.71" font-weight="700" fill="#231f20">-/-</text>
</g>
<rect x="1719.30" y="1379.40" width="65.50" height="321.20" fill="#d9ad99"/>
<path d="M1723.00 1700.60V1383.10H1781.10V1700.60" fill="none" stroke="#8b3419" stroke-width="7.40"/>
<rect x="1818.20" y="1441.50" width="64.90" height="259.10" fill="#d39eaf"/>
<path d="M1821.90 1700.60V1445.20H1879.40V1700.60" fill="none" stroke="#70133f" stroke-width="7.40"/>
<rect x="1916.80" y="1346.00" width="65.20" height="354.60" fill="#b0bf8d"/>
<path d="M1920.50 1700.60V1349.70H1978.30V1700.60" fill="none" stroke="#3c5a27" stroke-width="7.40"/>
<path d="M1686.30 1216.20V1703.00" fill="none" stroke="#231f20" stroke-width="4.80"/>
<path d="M1665.20 1700.60H2014.80" fill="none" stroke="#231f20" stroke-width="4.80"/>
<path d="M1665.20 1218.70H1686.30M1665.20 1379.33H1686.30M1665.20 1539.97H1686.30M1751.80 1700.60V1721.40M1850.40 1700.60V1721.40M1949.20 1700.60V1721.40" fill="none" stroke="#231f20" stroke-width="4.80"/>
<path d="M1751.80 1348.90V1410.20M1734.40 1348.90H1769.20M1734.40 1410.20H1769.20" fill="none" stroke="#000" stroke-width="2.30"/>
<path d="M1850.40 1406.80V1476.80M1833.30 1406.80H1868.00M1833.30 1476.80H1868.00" fill="none" stroke="#000" stroke-width="2.30"/>
<path d="M1949.20 1340.40V1350.90M1932.10 1340.40H1966.60M1932.10 1350.90H1966.60" fill="none" stroke="#000" stroke-width="2.30"/>
<circle cx="1751.80" cy="1347.20" r="7.40" fill="#c47652"/>
<circle cx="1751.80" cy="1383.70" r="7.40" fill="#c47652"/>
<circle cx="1751.80" cy="1407.90" r="7.40" fill="#c47652"/>
<circle cx="1850.40" cy="1402.50" r="7.40" fill="#b9527b"/>
<circle cx="1850.40" cy="1452.90" r="7.40" fill="#b9527b"/>
<circle cx="1850.40" cy="1469.10" r="7.40" fill="#b9527b"/>
<circle cx="1923.90" cy="1349.50" r="7.40" fill="#7c9c3d"/>
<circle cx="1949.20" cy="1340.40" r="7.40" fill="#7c9c3d"/>
<circle cx="1974.90" cy="1348.10" r="7.40" fill="#7c9c3d"/>
<text transform="translate(1605.22 1231.34) scale(1.0114 1)" font-size="37.29" font-weight="700" fill="#231f20">1.5</text>
<text transform="translate(1605.20 1391.97) scale(1.0217 1)" font-size="37.29" font-weight="700" fill="#231f20">1.0</text>
<text transform="translate(1606.13 1552.60) scale(0.9935 1)" font-size="37.29" font-weight="700" fill="#231f20">0.5</text>
<text transform="translate(1606.12 1713.24) scale(1.0035 1)" font-size="37.29" font-weight="700" fill="#231f20">0.0</text>
<text transform="translate(1533.20 1734.00) rotate(-90.00) translate(-1.19 0.00) scale(0.9378 1)" font-size="41.28" font-weight="700" fill="#231f20">5 nt flapped + 70 bp synthesis</text>
<text transform="translate(1582.30 1724.00) rotate(-90.00) translate(-3.75 0.00) scale(0.9439 1)" font-size="41.28" font-weight="700" fill="#231f20">:unflapped + 25 bp synthesis</text>
<g transform="translate(1734.20 1779.60) rotate(-45)">
<text transform="translate(-114.39 0.00) scale(0.9977 1)" font-size="35.76" font-weight="700" fill="#231f20">REV3L</text>
<text transform="translate(1.55 -14.00) scale(0.9798 1)" font-size="24.71" font-weight="700" fill="#231f20">-/+</text>
</g>
<g transform="translate(1805.20 1810.10) rotate(-45)">
<text transform="translate(-114.39 0.00) scale(0.9977 1)" font-size="35.76" font-weight="700" fill="#231f20">REV3L</text>
<text transform="translate(1.44 -14.00) scale(1.0998 1)" font-size="24.71" font-weight="700" fill="#231f20">-/-</text>
<text transform="translate(30.34 0.00) scale(1.0874 1)" font-size="35.76" font-weight="700" fill="#231f20">#1</text>
</g>
<g transform="translate(1904.00 1810.10) rotate(-45)">
<text transform="translate(-114.39 0.00) scale(0.9977 1)" font-size="35.76" font-weight="700" fill="#231f20">REV3L</text>
<text transform="translate(1.44 -14.00) scale(1.0998 1)" font-size="24.71" font-weight="700" fill="#231f20">-/-</text>
<text transform="translate(30.33 0.00) scale(1.0999 1)" font-size="35.76" font-weight="700" fill="#231f20">#2</text>
</g>
<svg x="121.8" y="1043.1" width="633.8" height="144.4" viewBox="121.8 1043.1 633.8 144.4" overflow="hidden">
<rect x="121.80" y="1043.10" width="633.80" height="144.40" fill="#040707"/>
<rect x="146.00" y="1118.00" width="60.00" height="32.00" fill="#1c3a14" opacity="0.28" filter="url(#b6)"/>
<rect x="235.00" y="1124.00" width="57.00" height="32.00" fill="#1c3a14" opacity="0.28" filter="url(#b6)"/>
<rect x="412.00" y="1124.00" width="55.00" height="32.00" fill="#1c3a14" opacity="0.16" filter="url(#b6)"/>
<rect x="500.00" y="1124.00" width="57.00" height="32.00" fill="#1c3a14" opacity="0.30" filter="url(#b6)"/>
<rect x="500.00" y="1060.00" width="56.00" height="40.00" fill="#1c3a14" opacity="0.12" filter="url(#b6)"/>
<path d="M142.90 1103.00 Q176.00 1106.45 209.10 1109.90 L209.10 1122.90 Q176.00 1119.45 142.90 1116.00 Z" fill="#1fa838" opacity="0.55" filter="url(#b3)"/>
<path d="M144.90 1104.75 Q176.00 1108.20 207.10 1111.65 L207.10 1119.15 Q176.00 1115.70 144.90 1112.25 Z" fill="#3fe052" opacity="1.00" filter="url(#b2)"/>
<path d="M150.00 1106.90 Q177.00 1110.00 204.00 1113.10 L204.00 1116.10 Q177.00 1113.00 150.00 1109.90 Z" fill="#8af39a" opacity="0.30" filter="url(#b1)"/>
<path d="M232.30 1111.10 Q263.70 1113.00 295.10 1114.90 L295.10 1127.90 Q263.70 1126.00 232.30 1124.10 Z" fill="#1fa838" opacity="0.55" filter="url(#b3)"/>
<path d="M234.30 1112.85 Q263.70 1114.75 293.10 1116.65 L293.10 1124.15 Q263.70 1122.25 234.30 1120.35 Z" fill="#3ada4e" opacity="1.00" filter="url(#b2)"/>
<path d="M238.00 1115.10 Q264.00 1116.80 290.00 1118.50 L290.00 1121.50 Q264.00 1119.80 238.00 1118.10 Z" fill="#88f098" opacity="0.25" filter="url(#b1)"/>
<path d="M325.00 1117.30 Q353.50 1116.95 382.00 1116.60 L382.00 1122.60 Q353.50 1122.95 325.00 1123.30 Z" fill="#2a4a26" opacity="0.70" filter="url(#b3)"/>
<path d="M409.50 1111.60 Q439.05 1113.00 468.60 1114.40 L468.60 1126.40 Q439.05 1125.00 409.50 1123.60 Z" fill="#149050" opacity="0.50" filter="url(#b3)"/>
<path d="M411.50 1113.35 Q439.05 1114.75 466.60 1116.15 L466.60 1122.65 Q439.05 1121.25 411.50 1119.85 Z" fill="#25c070" opacity="1.00" filter="url(#b2)"/>
<path d="M495.80 1113.15 Q528.10 1112.65 560.40 1112.15 L560.40 1126.65 Q528.10 1127.15 495.80 1127.65 Z" fill="#26b036" opacity="0.55" filter="url(#b3)"/>
<path d="M497.80 1114.90 Q528.10 1114.40 558.40 1113.90 L558.40 1122.90 Q528.10 1123.40 497.80 1123.90 Z" fill="#4fe44e" opacity="1.00" filter="url(#b2)"/>
<path d="M503.00 1117.20 Q528.50 1116.70 554.00 1116.20 L554.00 1120.20 Q528.50 1120.70 503.00 1121.20 Z" fill="#a4f598" opacity="0.40" filter="url(#b1)"/>
<path d="M587.00 1112.90 Q615.25 1112.00 643.50 1111.10 L643.50 1116.10 Q615.25 1117.00 587.00 1117.90 Z" fill="#1e3622" opacity="0.70" filter="url(#b3)"/>
<path d="M672.00 1107.10 Q691.00 1106.50 710.00 1105.90 L710.00 1110.90 Q691.00 1111.50 672.00 1112.10 Z" fill="#15241a" opacity="0.60" filter="url(#b3)"/>
</svg>
<svg x="119.9" y="1192.5" width="636.1" height="120" viewBox="119.9 1192.5 636.1 120" overflow="hidden">
<rect x="119.90" y="1192.50" width="636.10" height="120.00" fill="#080506"/>
<rect x="132.00" y="1200.00" width="70.00" height="112.00" fill="#5a1010" opacity="0.10" filter="url(#b6)"/>
<rect x="133.00" y="1253.00" width="68.00" height="18.00" fill="#b01818" opacity="0.20" filter="url(#b6)"/>
<rect x="134.00" y="1297.00" width="66.00" height="12.00" fill="#7a1212" opacity="0.16" filter="url(#b3)"/>
<rect x="225.00" y="1200.00" width="68.00" height="112.00" fill="#5a1010" opacity="0.10" filter="url(#b6)"/>
<rect x="226.00" y="1257.00" width="66.00" height="18.00" fill="#b01818" opacity="0.20" filter="url(#b6)"/>
<rect x="227.00" y="1297.00" width="64.00" height="12.00" fill="#7a1212" opacity="0.16" filter="url(#b3)"/>
<rect x="322.00" y="1200.00" width="58.00" height="112.00" fill="#5a1010" opacity="0.10" filter="url(#b6)"/>
<rect x="323.00" y="1255.00" width="56.00" height="18.00" fill="#b01818" opacity="0.20" filter="url(#b6)"/>
<rect x="324.00" y="1297.00" width="54.00" height="12.00" fill="#7a1212" opacity="0.16" filter="url(#b3)"/>
<rect x="410.00" y="1200.00" width="63.00" height="112.00" fill="#5a1010" opacity="0.10" filter="url(#b6)"/>
<rect x="411.00" y="1253.00" width="61.00" height="18.00" fill="#b01818" opacity="0.20" filter="url(#b6)"/>
<rect x="412.00" y="1297.00" width="59.00" height="12.00" fill="#7a1212" opacity="0.16" filter="url(#b3)"/>
<rect x="500.00" y="1200.00" width="68.00" height="112.00" fill="#5a1010" opacity="0.10" filter="url(#b6)"/>
<rect x="501.00" y="1251.00" width="66.00" height="18.00" fill="#b01818" opacity="0.20" filter="url(#b6)"/>
<rect x="502.00" y="1297.00" width="64.00" height="12.00" fill="#7a1212" opacity="0.16" filter="url(#b3)"/>
<rect x="594.00" y="1200.00" width="59.00" height="112.00" fill="#5a1010" opacity="0.10" filter="url(#b6)"/>
<rect x="595.00" y="1246.00" width="57.00" height="18.00" fill="#b01818" opacity="0.20" filter="url(#b6)"/>
<rect x="596.00" y="1297.00" width="55.00" height="12.00" fill="#7a1212" opacity="0.16" filter="url(#b3)"/>
<rect x="686.00" y="1200.00" width="58.00" height="112.00" fill="#5a1010" opacity="0.10" filter="url(#b6)"/>
<rect x="687.00" y="1240.00" width="56.00" height="18.00" fill="#b01818" opacity="0.20" filter="url(#b6)"/>
<rect x="688.00" y="1297.00" width="54.00" height="12.00" fill="#7a1212" opacity="0.16" filter="url(#b3)"/>
<path d="M127.90 1237.90 Q166.40 1239.20 204.90 1240.50 L204.90 1253.50 Q166.40 1252.20 127.90 1250.90 Z" fill="#b8141c" opacity="0.55" filter="url(#b3)"/>
<path d="M129.90 1239.65 Q166.40 1240.95 202.90 1242.25 L202.90 1249.75 Q166.40 1248.45 129.90 1247.15 Z" fill="#ea1c26" opacity="1.00" filter="url(#b2)"/>
<path d="M221.40 1240.60 Q258.65 1241.60 295.90 1242.60 L295.90 1258.60 Q258.65 1257.60 221.40 1256.60 Z" fill="#c0161e" opacity="0.55" filter="url(#b3)"/>
<path d="M223.40 1242.35 Q258.65 1243.35 293.90 1244.35 L293.90 1254.85 Q258.65 1253.85 223.40 1252.85 Z" fill="#f01e28" opacity="1.00" filter="url(#b2)"/>
<path d="M319.10 1239.10 Q350.90 1242.30 382.70 1239.10 L382.70 1254.10 Q350.90 1257.30 319.10 1254.10 Z" fill="#c0161e" opacity="0.55" filter="url(#b3)"/>
<path d="M321.10 1240.85 Q350.90 1244.05 380.70 1240.85 L380.70 1250.35 Q350.90 1253.55 321.10 1250.35 Z" fill="#f01e28" opacity="1.00" filter="url(#b2)"/>
<path d="M406.80 1237.65 Q440.90 1237.65 475.00 1237.65 L475.00 1253.15 Q440.90 1253.15 406.80 1253.15 Z" fill="#c0161e" opacity="0.55" filter="url(#b3)"/>
<path d="M408.80 1239.40 Q440.90 1239.40 473.00 1239.40 L473.00 1249.40 Q440.90 1249.40 408.80 1249.40 Z" fill="#f42028" opacity="1.00" filter="url(#b2)"/>
<path d="M496.70 1235.40 Q534.00 1238.10 571.30 1233.60 L571.30 1249.60 Q534.00 1254.10 496.70 1251.40 Z" fill="#c0161e" opacity="0.55" filter="url(#b3)"/>
<path d="M498.70 1237.15 Q534.00 1239.85 569.30 1235.35 L569.30 1245.85 Q534.00 1250.35 498.70 1247.65 Z" fill="#f42028" opacity="1.00" filter="url(#b2)"/>
<path d="M592.10 1233.35 Q623.05 1232.55 654.00 1231.75 L654.00 1244.25 Q623.05 1245.05 592.10 1245.85 Z" fill="#b8141c" opacity="0.55" filter="url(#b3)"/>
<path d="M594.10 1235.10 Q623.05 1234.30 652.00 1233.50 L652.00 1240.50 Q623.05 1241.30 594.10 1242.10 Z" fill="#ec1e28" opacity="1.00" filter="url(#b2)"/>
<path d="M680.30 1230.60 Q713.50 1228.30 746.70 1226.00 L746.70 1236.00 Q713.50 1238.30 680.30 1240.60 Z" fill="#b0121a" opacity="0.55" filter="url(#b3)"/>
<path d="M682.30 1232.35 Q713.50 1230.05 744.70 1227.75 L744.70 1232.25 Q713.50 1234.55 682.30 1236.85 Z" fill="#e61c26" opacity="1.00" filter="url(#b2)"/>
</svg>
<text transform="translate(143.34 1029.90) scale(1.0944 1)" font-size="29.51" font-weight="700" fill="#231f20" stroke="#231f20" stroke-width="0.5">Time</text>
<text transform="translate(235.82 1029.90) scale(1.1437 1)" font-size="29.51" font-weight="700" fill="#231f20" stroke="#231f20" stroke-width="0.5">(hrs):</text>
<text transform="translate(330.28 1029.90) scale(1.0904 1)" font-size="29.51" font-weight="700" fill="#231f20" stroke="#231f20" stroke-width="0.5">24</text>
<text transform="translate(424.00 1029.90) scale(1.1219 1)" font-size="29.51" font-weight="700" fill="#231f20" stroke="#231f20" stroke-width="0.5">48</text>
<text transform="translate(508.19 1029.90) scale(1.1096 1)" font-size="29.51" font-weight="700" fill="#231f20" stroke="#231f20" stroke-width="0.5">72</text>
<text transform="translate(594.68 1029.90) scale(1.0904 1)" font-size="29.51" font-weight="700" fill="#231f20" stroke="#231f20" stroke-width="0.5">24</text>
<text transform="translate(689.20 1029.90) scale(1.1187 1)" font-size="29.51" font-weight="700" fill="#231f20" stroke="#231f20" stroke-width="0.5">48</text>
<text transform="translate(-0.26 1118.60) scale(1.1164 1)" font-size="28.92" font-weight="700" fill="#231f20" stroke="#231f20" stroke-width="0.5">POLD1</text>
<text transform="translate(25.98 1250.00) scale(1.1194 1)" font-size="29.51" font-weight="700" fill="#231f20" stroke="#231f20" stroke-width="0.5">Actin</text>
<line x1="319.90" y1="1330.50" x2="569.70" y2="1330.50" stroke="#231f20" stroke-width="2.30" stroke-linecap="butt"/>
<line x1="591.20" y1="1330.50" x2="749.00" y2="1330.50" stroke="#231f20" stroke-width="2.30" stroke-linecap="butt"/>
<text transform="translate(137.00 1396.00) rotate(-33.20) translate(-0.03 0.00) scale(1.1202 1)" font-size="29.51" font-weight="700" fill="#231f20">WT</text>
<text transform="translate(142.70 1443.20) rotate(-33.20) translate(-1.09 0.00) scale(1.0553 1)" font-size="29.51" font-weight="700" fill="#231f20">siScramble</text>
<text transform="translate(331.30 1455.50) rotate(-33.20) translate(-1.09 0.00) scale(1.0484 1)" font-size="29.51" font-weight="700" fill="#231f20">siPOLD1 1X</text>
<text transform="translate(553.30 1455.50) rotate(-33.20) translate(-1.09 0.00) scale(1.0484 1)" font-size="29.51" font-weight="700" fill="#231f20">siPOLD1 2X</text>
<svg x="194.8" y="1529.8" width="495.1" height="95.2" viewBox="194.8 1529.8 495.1 95.2" overflow="hidden">
<rect x="194.80" y="1529.80" width="495.10" height="95.20" fill="#040707"/>
<rect x="212.00" y="1526.00" width="60.00" height="17.00" fill="#1c3a14" opacity="0.30" filter="url(#b6)"/>
<rect x="310.00" y="1526.00" width="58.00" height="15.00" fill="#1c3a14" opacity="0.30" filter="url(#b6)"/>
<path d="M210.20 1586.20 C210.20 1579.01 220.78 1577.30 243.25 1577.75 C265.72 1578.10 276.30 1579.81 276.30 1587.00 C276.30 1594.19 265.72 1595.90 243.25 1596.25 C220.78 1595.10 210.20 1593.39 210.20 1586.20 Z" fill="#0f7a36" opacity="0.50" filter="url(#b3)"/>
<path d="M212.20 1585.60 C212.20 1580.60 222.14 1578.90 243.25 1579.40 C264.36 1579.70 274.30 1581.40 274.30 1586.40 C274.30 1591.40 264.36 1593.10 243.25 1593.40 C222.14 1592.30 212.20 1590.60 212.20 1585.60 Z" fill="#1aa64e" opacity="1.00" filter="url(#b2)"/>
<path d="M307.20 1583.00 C307.20 1575.81 317.38 1573.42 339.00 1570.40 C360.62 1570.62 370.80 1573.01 370.80 1580.20 C370.80 1587.39 360.62 1589.77 339.00 1590.40 C317.38 1592.58 307.20 1590.19 307.20 1583.00 Z" fill="#0f7a36" opacity="0.50" filter="url(#b3)"/>
<path d="M309.20 1582.40 C309.20 1577.40 318.74 1575.03 339.00 1572.05 C359.26 1572.22 368.80 1574.60 368.80 1579.60 C368.80 1584.60 359.26 1586.97 339.00 1587.55 C318.74 1589.78 309.20 1587.40 309.20 1582.40 Z" fill="#1aa64e" opacity="1.00" filter="url(#b2)"/>
<path d="M404.30 1579.20 C404.30 1572.64 414.06 1571.70 434.80 1567.75 C455.54 1564.30 465.30 1565.24 465.30 1571.80 C465.30 1578.36 455.54 1579.30 434.80 1583.25 C414.06 1586.70 404.30 1585.76 404.30 1579.20 Z" fill="#0f7a36" opacity="0.50" filter="url(#b3)"/>
<path d="M406.30 1578.60 C406.30 1574.22 415.42 1573.30 434.80 1569.40 C454.18 1565.90 463.30 1566.83 463.30 1571.20 C463.30 1575.58 454.18 1576.50 434.80 1580.40 C415.42 1583.90 406.30 1582.97 406.30 1578.60 Z" fill="#1aa64e" opacity="1.00" filter="url(#b2)"/>
<path d="M512.00 1561.60 Q536.00 1561.30 560.00 1561.00 L560.00 1565.00 Q536.00 1565.30 512.00 1565.60 Z" fill="#122016" opacity="0.60" filter="url(#b3)"/>
<rect x="418.00" y="1608.00" width="22.00" height="12.00" fill="#1c3a14" opacity="0.20" filter="url(#b6)"/>
</svg>
<svg x="194.1" y="1634.3" width="495.8" height="96.6" viewBox="194.1 1634.3 495.8 96.6" overflow="hidden">
<rect x="194.10" y="1634.30" width="495.80" height="96.60" fill="#050506"/>
<path d="M219.10 1680.40 C219.10 1673.21 229.07 1673.52 250.25 1675.90 C271.43 1678.52 281.40 1678.21 281.40 1685.40 C281.40 1692.59 271.43 1692.27 250.25 1689.90 C229.07 1687.27 219.10 1687.59 219.10 1680.40 Z" fill="#a81016" opacity="0.50" filter="url(#b3)"/>
<path d="M221.10 1679.80 C221.10 1674.80 230.43 1675.12 250.25 1677.55 C270.07 1680.12 279.40 1679.80 279.40 1684.80 C279.40 1689.80 270.07 1689.47 250.25 1687.05 C230.43 1684.47 221.10 1684.80 221.10 1679.80 Z" fill="#e81a20" opacity="1.00" filter="url(#b2)"/>
<path d="M309.80 1686.60 C309.80 1679.41 319.77 1678.82 340.95 1677.70 C362.13 1675.82 372.10 1676.41 372.10 1683.60 C372.10 1690.79 362.13 1691.38 340.95 1693.70 C319.77 1694.38 309.80 1693.79 309.80 1686.60 Z" fill="#a81016" opacity="0.50" filter="url(#b3)"/>
<path d="M311.80 1686.00 C311.80 1681.00 321.13 1680.42 340.95 1679.35 C360.77 1677.42 370.10 1678.00 370.10 1683.00 C370.10 1688.00 360.77 1688.58 340.95 1690.85 C321.13 1691.58 311.80 1691.00 311.80 1686.00 Z" fill="#e81a20" opacity="1.00" filter="url(#b2)"/>
<path d="M399.20 1683.80 C399.20 1675.99 409.57 1676.42 431.60 1676.50 C453.63 1676.82 464.00 1676.39 464.00 1684.20 C464.00 1692.01 453.63 1691.57 431.60 1691.50 C409.57 1691.17 399.20 1691.61 399.20 1683.80 Z" fill="#a81016" opacity="0.50" filter="url(#b3)"/>
<path d="M401.20 1683.20 C401.20 1677.58 410.93 1678.03 431.60 1678.15 C452.27 1678.42 462.00 1677.97 462.00 1683.60 C462.00 1689.22 452.27 1688.77 431.60 1688.65 C410.93 1688.38 401.20 1688.83 401.20 1683.20 Z" fill="#e81a20" opacity="1.00" filter="url(#b2)"/>
<path d="M494.90 1682.80 C494.90 1676.55 505.49 1676.67 528.00 1677.65 C550.51 1676.88 561.10 1676.75 561.10 1683.00 C561.10 1689.25 550.51 1689.12 528.00 1690.15 C505.49 1688.92 494.90 1689.05 494.90 1682.80 Z" fill="#a81016" opacity="0.50" filter="url(#b3)"/>
<path d="M496.90 1682.20 C496.90 1678.14 506.85 1678.28 528.00 1679.30 C549.15 1678.48 559.10 1678.34 559.10 1682.40 C559.10 1686.46 549.15 1686.33 528.00 1687.30 C506.85 1686.12 496.90 1686.26 496.90 1682.20 Z" fill="#e81a20" opacity="1.00" filter="url(#b2)"/>
<path d="M592.00 1682.80 C592.00 1676.55 602.78 1676.90 625.70 1678.20 C648.62 1677.70 659.40 1677.35 659.40 1683.60 C659.40 1689.85 648.62 1689.50 625.70 1690.20 C602.78 1688.70 592.00 1689.05 592.00 1682.80 Z" fill="#a81016" opacity="0.50" filter="url(#b3)"/>
<path d="M594.00 1682.20 C594.00 1678.14 604.14 1678.50 625.70 1679.85 C647.26 1679.30 657.40 1678.94 657.40 1683.00 C657.40 1687.06 647.26 1686.70 625.70 1687.35 C604.14 1685.90 594.00 1686.26 594.00 1682.20 Z" fill="#e81a20" opacity="1.00" filter="url(#b2)"/>
<rect x="404.00" y="1692.00" width="56.00" height="12.00" fill="#b01a20" opacity="0.42" filter="url(#b3)"/>
<rect x="320.00" y="1692.00" width="42.00" height="8.00" fill="#b01a20" opacity="0.42" filter="url(#b3)"/>
<rect x="514.00" y="1695.00" width="18.00" height="10.00" fill="#d01a20" opacity="0.55" filter="url(#b3)"/>
<path d="M651.00 1677.00 C651.00 1673.25 652.38 1670.85 655.30 1669.50 C658.22 1668.85 659.60 1671.25 659.60 1675.00 C659.60 1678.75 658.22 1681.15 655.30 1682.50 C652.38 1683.15 651.00 1680.75 651.00 1677.00 Z" fill="#e81a20" opacity="1.00" filter="url(#b1)"/>
<path d="M653.00 1672.00 C653.00 1668.88 654.02 1667.70 656.20 1666.50 C658.38 1665.70 659.40 1666.88 659.40 1670.00 C659.40 1673.12 658.38 1674.30 656.20 1675.50 C654.02 1676.30 653.00 1675.12 653.00 1672.00 Z" fill="#e81a20" opacity="1.00" filter="url(#b1)"/>
</svg>
<text transform="translate(239.48 1516.00) scale(1.0667 1)" font-size="27.04" font-weight="700" fill="#231f20" stroke="#231f20" stroke-width="0.5">Time</text>
<text transform="translate(323.17 1516.00) scale(1.1361 1)" font-size="27.04" font-weight="700" fill="#231f20" stroke="#231f20" stroke-width="0.5">(hrs):</text>
<text transform="translate(415.47 1516.00) scale(1.1039 1)" font-size="27.04" font-weight="700" fill="#231f20" stroke="#231f20" stroke-width="0.5">24</text>
<text transform="translate(512.65 1516.00) scale(1.0995 1)" font-size="27.04" font-weight="700" fill="#231f20" stroke="#231f20" stroke-width="0.5">48</text>
<text transform="translate(607.07 1516.00) scale(1.1464 1)" font-size="27.04" font-weight="700" fill="#231f20" stroke="#231f20" stroke-width="0.5">72</text>
<text transform="translate(105.38 1592.40) scale(1.1521 1)" font-size="26.16" font-weight="700" fill="#231f20" stroke="#231f20" stroke-width="0.5">PCNA</text>
<text transform="translate(114.25 1688.00) scale(1.1248 1)" font-size="26.60" font-weight="700" fill="#231f20" stroke="#231f20" stroke-width="0.5">Actin</text>
<line x1="411.70" y1="1748.10" x2="655.50" y2="1748.10" stroke="#231f20" stroke-width="2.30" stroke-linecap="butt"/>
<text transform="translate(221.20 1800.10) rotate(-34.00) translate(-0.03 0.00) scale(1.1621 1)" font-size="27.33" font-weight="700" fill="#231f20">WT</text>
<text transform="translate(226.00 1857.00) rotate(-34.00) translate(-1.03 0.00) scale(1.0769 1)" font-size="27.33" font-weight="700" fill="#231f20">siScramble</text>
<text transform="translate(448.00 1841.00) rotate(-34.00) translate(-1.05 0.00) scale(1.0960 1)" font-size="27.33" font-weight="700" fill="#231f20">siPCNA</text>
<text transform="translate(33.37 72.35) scale(1.1467 1)" font-size="45.63" font-weight="700" fill="#231f20" stroke="#231f20" stroke-width="1.80" stroke-linejoin="miter" vector-effect="non-scaling-stroke">a</text>
<text transform="translate(650.91 66.53) scale(1.1118 1)" font-size="47.66" font-weight="700" fill="#231f20" stroke="#231f20" stroke-width="1.80" stroke-linejoin="miter" vector-effect="non-scaling-stroke">b</text>
<text transform="translate(1292.88 66.15) scale(1.2444 1)" font-size="45.63" font-weight="700" fill="#231f20" stroke="#231f20" stroke-width="1.80" stroke-linejoin="miter" vector-effect="non-scaling-stroke">c</text>
<text transform="translate(34.43 998.24) scale(1.1182 1)" font-size="47.39" font-weight="700" fill="#231f20" stroke="#231f20" stroke-width="1.80" stroke-linejoin="miter" vector-effect="non-scaling-stroke">d</text>
<text transform="translate(111.44 1515.97) scale(1.3181 1)" font-size="43.99" font-weight="700" fill="#231f20" stroke="#231f20" stroke-width="1.80" stroke-linejoin="miter" vector-effect="non-scaling-stroke">e</text>
<text transform="translate(759.20 985.80) scale(1.1297 1)" font-size="46.78" font-weight="700" fill="#231f20" stroke="#231f20" stroke-width="1.80" stroke-linejoin="miter" vector-effect="non-scaling-stroke">f</text>
<text transform="translate(1443.03 983.09) scale(1.0288 1)" font-size="46.77" font-weight="700" fill="#231f20" stroke="#231f20" stroke-width="1.80" stroke-linejoin="miter" vector-effect="non-scaling-stroke">g</text>
</svg>
</body></html>
